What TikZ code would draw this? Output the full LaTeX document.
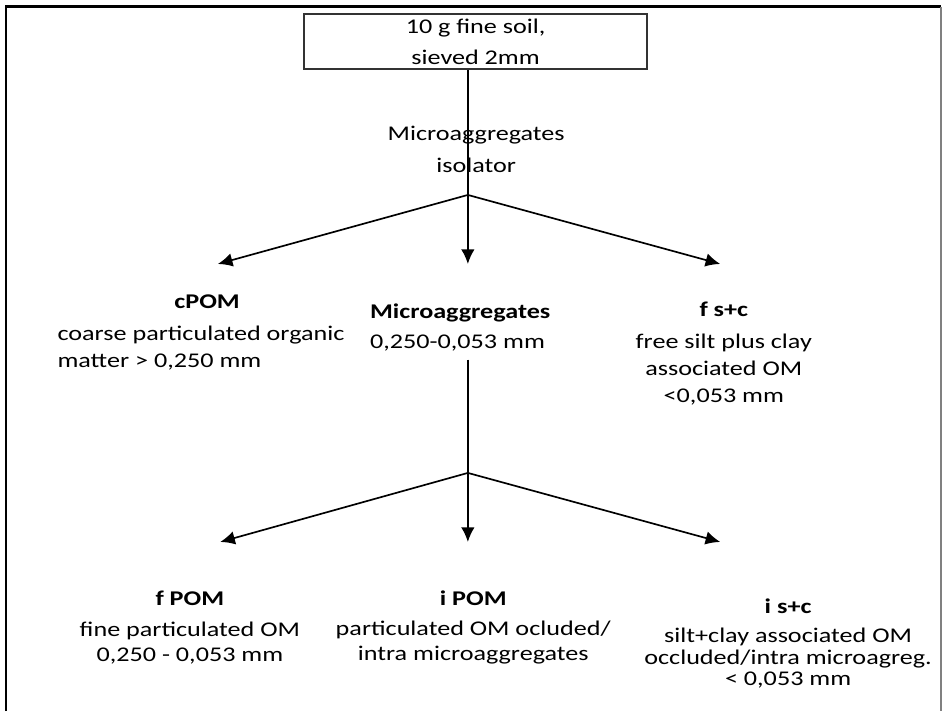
\documentclass[tikz,border=0pt]{standalone}
\usepackage{fontspec}
\setmainfont{Carlito}[FakeStretch=1.25]
\usetikzlibrary{arrows.meta}

\begin{document}
\begin{tikzpicture}[font=\fontsize{10}{12.9}\selectfont, >={Latex[length=7pt,width=6.5pt]}, inner sep=0pt,
    link/.style={->, line width=0.8pt},
    fraction/.style={align=center, font=\fontsize{10}{12}\selectfont}]
        \useasboundingbox (0,0) rectangle (15.876,11.945);
        \draw[line width=1.3pt] (0.10,0) -- (0.10,11.83) -- (15.81,11.83);
        \draw[gray, line width=0.6pt] (15.81,11.83) -- (15.81,0);
        \coordinate (split1) at (7.86,8.67);
        \coordinate (split2) at (7.86,4.00);
        \coordinate (cpomtip) at (3.66,7.51);
        \coordinate (microtip) at (7.86,7.51);
        \coordinate (fsctip) at (12.10,7.51);
        \coordinate (fpomtip) at (3.70,2.84);
        \coordinate (ipomtip) at (7.86,2.84);
        \coordinate (isctip) at (12.10,2.84);
        \node[draw=black!80, line width=1pt, minimum width=5.76cm, minimum height=0.92cm, align=center,
          font=\fontsize{10}{14.8}\selectfont] (soil) at (7.99,11.25) {10 g fine soil,\\sieved 2mm};
        \draw[link] (soil.south -| split1) -- (microtip);
        \draw[link] (split1) -- (cpomtip);
        \draw[link] (split1) -- (fsctip);
        \node[align=center, font=\fontsize{10}{15.3}\selectfont] (isolator) at (8.00,9.44) {Microaggregates\\isolator};
        \node[font=\fontsize{10}{12.9}\selectfont\bfseries] (cpom) at (3.48,6.87) {cPOM};
        \node[anchor=west, align=left] (cpomtext) at (0.96,6.09) {coarse particulated organic\\matter > 0,250 mm};
        \node[anchor=west, align=left, font=\fontsize{10}{14.3}\selectfont] (micro) at (6.21,6.45) {\textbf{Microaggregates}\\0,250-0,053 mm};
        \node[align=center] (fsc) at (12.16,6.01) {\textbf{f s+c}\\[2.4pt]free silt plus clay\\associated OM\\<0,053 mm};
        \draw[link, shorten <=4pt] (micro.south -| split2) -- (ipomtip);
        \draw[link] (split2) -- (fpomtip);
        \draw[link] (split2) -- (isctip);
        \node[fraction] (fpom) at (3.19,1.40) {\textbf{f POM}\\[2.4pt]fine particulated OM\\0,250 - 0,053 mm};
        \node[fraction] (ipom) at (7.95,1.40) {\textbf{i POM}\\[2.4pt]particulated OM ocluded/\\intra microaggregates};
        \node[fraction, font=\fontsize{10}{10.3}\selectfont] (isc) at (13.24,1.13) {\textbf{i s+c}\\[3.6pt]silt+clay associated OM\\occluded/intra microagreg.\\< 0,053 mm};
      \end{tikzpicture}
\end{document}
